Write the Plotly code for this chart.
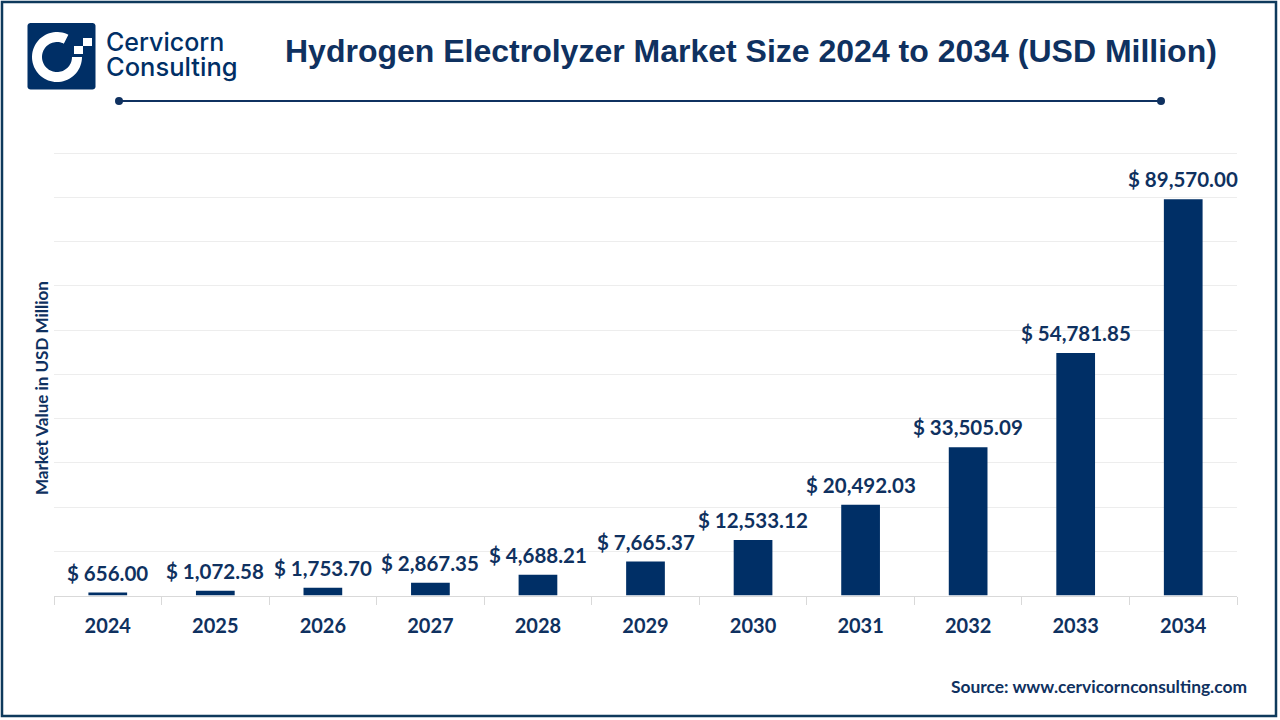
import numpy as np
import plotly.graph_objects as go

years = ["2024","2025","2026","2027","2028","2029","2030","2031","2032","2033","2034"]
values = [656.00,1072.58,1753.70,2867.35,4688.21,7665.37,12533.12,20492.03,33505.09,54781.85,89570.00]
labels = [f"$ {v:,.2f}" for v in values]

W, H = 1280, 720
NAVY = "#002F66"
INK = "#0F3160"
FRAME = "#0E3A5C"
def X(px): return px / W
def Y(py): return 1 - py / H

def poly(points):
    return "M" + " L".join(f"{X(a):.5f},{Y(b):.5f}" for a, b in points) + " Z"

def rounded(x0, y0, x1, y1, r):
    pts = []
    for cx, cy, a0 in [(x1-r, y0+r, -90), (x1-r, y1-r, 0), (x0+r, y1-r, 90), (x0+r, y0+r, 180)]:
        for a in np.radians(np.linspace(a0, a0+90, 6)):
            pts.append((cx + r*np.cos(a), cy + r*np.sin(a)))
    return poly(pts)

def ring(cx, cy, ro, ri, a0, a1):
    angs = np.radians(np.linspace(a0, a1, 60))
    outer = [(cx + ro*np.cos(a), cy + ro*np.sin(a)) for a in angs]
    inner = [(cx + ri*np.cos(a), cy + ri*np.sin(a)) for a in angs[::-1]]
    return poly(outer + inner)

shapes = []
def add_path(path, color):
    shapes.append(dict(type="path", xref="paper", yref="paper", path=path,
                       fillcolor=color, line=dict(width=0), layer="above"))

# frame
shapes.append(dict(type="rect", xref="paper", yref="paper", x0=X(2), x1=X(1276), y0=Y(2), y1=Y(716),
                   line=dict(color=FRAME, width=2.5), fillcolor="rgba(0,0,0,0)"))
# logo
add_path(rounded(27.5, 23, 95.5, 89.5, 3), NAVY)
add_path(ring(57, 57, 25, 15, -63, -360), "#FFFFFF")
add_path(poly([(74,46),(83,46),(83,54),(74,54)]), "#FFFFFF")
add_path(poly([(83,38),(92,38),(92,46),(83,46)]), "#FFFFFF")
# rule under title
shapes.append(dict(type="line", xref="paper", yref="paper", x0=X(119), x1=X(1161), y0=Y(101), y1=Y(101),
                   line=dict(color=INK, width=2)))
for cx in (119, 1161):
    shapes.append(dict(type="circle", xref="paper", yref="paper", x0=X(cx-4), x1=X(cx+4), y0=Y(97), y1=Y(105),
                       fillcolor=INK, line=dict(width=0)))

def note(text, px, py, size, family, anchor="center", color=INK, weight="normal", angle=0):
    return dict(text=text, x=X(px), y=Y(py), xref="paper", yref="paper", showarrow=False,
                xanchor=anchor, yanchor="middle", textangle=angle,
                font=dict(size=size, family=family, color=color, weight=weight))

annotations = [
    note("Hydrogen Electrolyzer Market Size 2024 to 2034 (USD Million)", 751, 51, 32, "Liberation Sans", weight="bold"),
    note("Cervicorn", 104, 41.5, 25, "Inter", anchor="left", color=NAVY, weight=500),
    note("Consulting", 104, 66, 25.5, "Inter", anchor="left", color=NAVY, weight=500),
    note("Market Value in USD Million", 41, 388, 17, "Lato", weight="bold", angle=-90),
    note("Source: www.cervicornconsulting.com", 1249, 686, 17.4, "Lato", anchor="right", weight="bold"),
]
# value labels tied to the data, lifted above each bar
for i, (v, lab) in enumerate(zip(values, labels)):
    annotations.append(dict(text=lab, x=i, y=v, xref="x", yref="y", showarrow=False,
                            xanchor="center", yanchor="middle", yshift=20,
                            font=dict(size=20.5, family="Lato", color=INK, weight="bold")))

fig = go.Figure(go.Bar(
    x=years, y=values, marker=dict(color=NAVY, line=dict(width=0)),
))
fig.update_layout(
    width=W, height=H, margin=dict(l=0, r=0, t=0, b=0),
    paper_bgcolor="white", plot_bgcolor="white", showlegend=False, bargap=0.64,
    shapes=shapes, annotations=annotations,
    xaxis=dict(domain=[X(54), X(1237)], type="category", range=[-0.5, 10.5], showline=True,
               linecolor="#D9D9D9", linewidth=1,
               ticks="outside", tickson="boundaries", ticklen=8, tickcolor="#D9D9D9", ticklabelstandoff=12,
               tickfont=dict(size=20, family="Lato", color=INK, weight="bold"), showgrid=False),
    yaxis=dict(domain=[Y(595.5), Y(148.6)], range=[0, 101000], dtick=10000, showticklabels=False,
               showgrid=True, gridcolor="#EDEDED", gridwidth=1, zeroline=False, showline=False, ticks=""),
)
fig.write_html("out.html", post_script="document.body.style.margin='0';", config=dict(displayModeBar=False))
